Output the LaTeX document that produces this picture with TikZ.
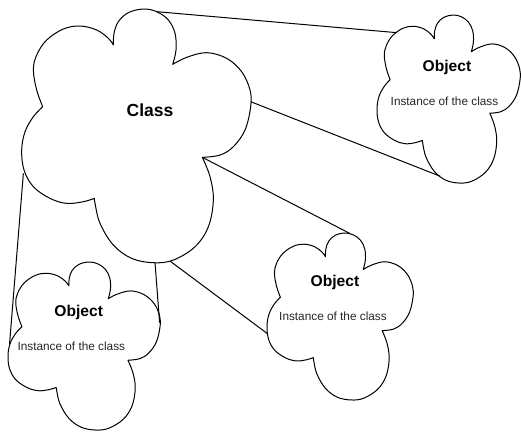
\documentclass[tikz,border=0pt]{standalone}
\usepackage{fontspec}
\setmainfont{Liberation Sans}
\usetikzlibrary{calc}

% Five-lobed cloud outline, in its own frame: box from (65,27) to (752,788)
\newcommand\cloudshape{%
  plot[smooth,tension=0.6] coordinates {(340,135) (342,100) (355,65) (385,38) (430,27) (470,35) (505,60) (525,100) (528,150) (518,193)}
  -- plot[smooth,tension=0.6] coordinates {(518,193) (560,172) (620,158) (680,175) (725,215) (750,270) (752,320) (735,390) (700,440) (660,465) (607,472)}
  -- plot[smooth,tension=0.6] coordinates {(607,472) (630,530) (640,600) (625,680) (585,740) (520,780) (460,788) (395,775) (340,735) (300,670) (285,610) (283,595)}
  -- plot[smooth,tension=0.6] coordinates {(283,595) (250,605) (200,610) (150,595) (100,560) (72,510) (65,450) (75,395) (100,350) (128,320)}
  -- plot[smooth,tension=0.6] coordinates {(128,320) (110,270) (100,210) (110,165) (140,120) (190,87) (240,78) (290,90) (325,115) (340,135)}
  -- cycle}

\tikzset{
  cloudline/.style={draw=black, line width=1pt, fill=white, line join=round},
  link/.style={draw=black, line width=1pt},
  classlabel/.style={anchor=base, inner sep=0pt, font=\fontsize{17.5}{20}\selectfont\bfseries},
  objlabel/.style={anchor=base, inner sep=0pt, font=\fontsize{15.6}{18}\selectfont\bfseries},
  instlabel/.style={anchor=base, inner sep=0pt, font=\fontsize{11.8}{14}\selectfont, text=black!85},
  cloudframe/.style 2 args={xscale=#1, yscale=#2, shift={(-65,-27)}}
}

\begin{document}
\begin{tikzpicture}[x=1pt, y=-1pt]
\useasboundingbox (0,0) rectangle (521,431);

% Class cloud
\begin{scope}[shift={(21.7,9)}, cloudframe={0.3333}{0.3334}]
  \path[cloudline] \cloudshape;
  \coordinate (classA) at (470,35);
  \coordinate (classB) at (752,305);
  \coordinate (classC) at (607,472);
  \coordinate (classD) at (510,783);
  \coordinate (classE) at (70,520);
  \coordinate (classF) at (465,788);
\end{scope}

% Object cloud, upper right
\begin{scope}[shift={(377,15)}, cloudframe={0.2082}{0.2208}]
  \path[cloudline] \cloudshape;
  \coordinate (objA1) at (160,107);
  \coordinate (objA2) at (368,757);
\end{scope}

% Object cloud, middle
\begin{scope}[shift={(267,233)}, cloudframe={0.2125}{0.2194}]
  \path[cloudline] \cloudshape;
  \coordinate (objB1) at (455,29);
  \coordinate (objB2) at (66,485);
\end{scope}

% Object cloud, lower left
\begin{scope}[shift={(8,262)}, cloudframe={0.2213}{0.2208}]
  \path[cloudline] \cloudshape;
  \coordinate (objC1) at (72,398);
  \coordinate (objC2) at (750,302);
\end{scope}

% Links from the class to its instances
\draw[link] (classA) -- (objA1);
\draw[link] (classB) -- (objA2);
\draw[link] (classC) -- (objB1);
\draw[link] (classD) -- (objB2);
\draw[link] (classE) -- (objC1);
\draw[link] (classF) -- (objC2);

% Labels
\node[classlabel] (classtxt) at (150,116) {Class};
\node[objlabel] (objAtxt) at (447,71.7) {Object};
\node[instlabel] (instAtxt) at (444.5,105) {Instance of the class};
\node[objlabel] (objBtxt) at (335,286.7) {Object};
\node[instlabel] (instBtxt) at (333,320.7) {Instance of the class};
\node[objlabel] (objCtxt) at (78.7,316.7) {Object};
\node[instlabel] (instCtxt) at (71.3,350.7) {Instance of the class};
\end{tikzpicture}
\end{document}
